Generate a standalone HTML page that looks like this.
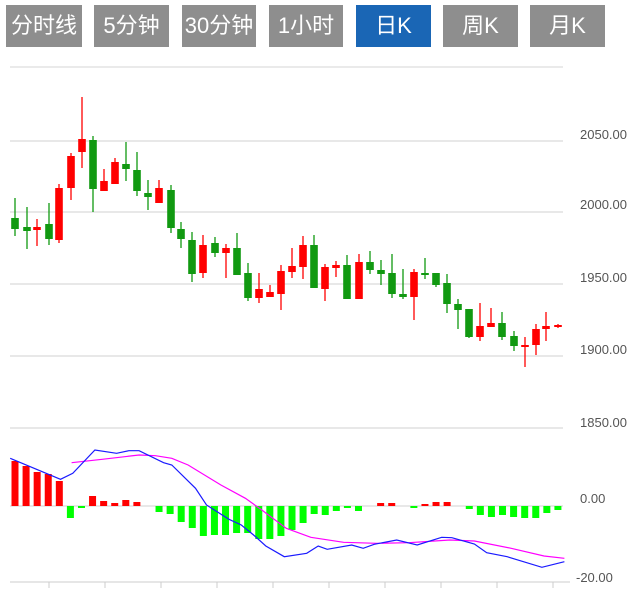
<!DOCTYPE html>
<html><head><meta charset="utf-8"><style>
body{margin:0;width:634px;height:590px;background:#fff;overflow:hidden;font-family:"Liberation Sans","Noto Sans CJK SC",sans-serif}
.b{position:absolute;top:5px;height:42px;background:#8e8e8e;color:#fff;font-size:22px;line-height:42px;text-align:center}
.b.a{background:#1a66b5}
svg{position:absolute;left:0;top:0}
</style></head><body>
<div class="b" style="left:6px;width:76px">分时线</div>
<div class="b" style="left:94px;width:75px">5分钟</div>
<div class="b" style="left:182px;width:74px">30分钟</div>
<div class="b" style="left:269px;width:74px">1小时</div>
<div class="b a" style="left:356px;width:75px">日K</div>
<div class="b" style="left:443px;width:75px">周K</div>
<div class="b" style="left:530px;width:75px">月K</div>
<svg id="s" width="634" height="590" xmlns="http://www.w3.org/2000/svg" font-family="Liberation Sans, sans-serif" font-size="13" fill="#555">
<line x1="10" y1="67" x2="563" y2="67" stroke="#e4e4e4" stroke-width="1.5"/>
<g stroke="#e0e0e0" stroke-width="1.5">
<line x1="10" y1="141" x2="563" y2="141"/><line x1="10" y1="212" x2="563" y2="212"/>
<line x1="10" y1="284" x2="563" y2="284"/><line x1="10" y1="356" x2="563" y2="356"/>
<line x1="10" y1="428" x2="563" y2="428"/><line x1="10" y1="506" x2="563" y2="506"/>
</g>
<text x="580" y="139">2050.00</text><text x="580" y="209">2000.00</text>
<text x="580" y="282">1950.00</text><text x="580" y="354">1900.00</text>
<text x="580" y="427">1850.00</text><text x="580" y="503">0.00</text>
<text x="576" y="582">-20.00</text>
<line x1="10" y1="582" x2="570" y2="582" stroke="#ccc"/>
<g id="c"></g>
</svg>
<script>
var s=document.getElementById('c'),h='';
// x, bodyTop, bodyBot, wickTop, wickBot, red?
var C=[[15,218,229,198,236,0],[27,227,231,207,249,0],[37,227,230,219,246,1],[49,224,239,203,245,0],[59,188,240,184,243,1],[71,156,188,153,200,1],[82,139,152,97,168,1],[93,140,189,136,212,0],[104,181,191,169,191,1],[115,162,184,158,184,1],[126,164,169,142,181,0],[137,170,191,152,196,0],[148,193,197,180,210,0],[159,188,203,180,203,1],[171,190,228,185,233,0],[181,229,239,222,248,0],[192,240,274,232,282,0],[203,245,273,235,278,1],[215,243,253,237,257,0],[226,248,253,244,278,1],[237,248,275,233,275,0],[248,273,298,263,301,0],[259,289,298,273,303,1],[270,292,297,285,297,1],[281,271,294,265,310,1],[292,266,272,248,278,1],[303,245,267,236,279,1],[314,245,288,235,288,0],[325,267,289,264,301,1],[336,265,268,261,277,1],[347,265,299,255,299,0],[359,262,299,254,299,1],[370,262,270,251,274,0],[381,270,274,260,285,0],[392,273,294,254,298,0],[403,294,297,269,299,0],[414,272,297,269,320,1],[425,273,274,258,279,0],[436,273,285,273,287,0],[447,283,304,274,313,0],[458,304,310,299,329,0],[469,309,337,309,338,0],[480,326,337,303,341,1],[491,323,327,308,327,1],[502,323,337,312,340,0],[514,336,346,331,351,0],[525,345,347,337,367,1],[536,329,345,324,355,1],[546,326,329,312,341,1],[558,325,327,324,328,1]];
C.forEach(function(c){var col=c[5]?'#f00':'#119911';
h+='<line x1="'+c[0]+'" x2="'+c[0]+'" y1="'+c[3]+'" y2="'+c[4]+'" stroke="'+col+'" stroke-width="1.3"/>';
h+='<rect x="'+(c[0]-3.8)+'" y="'+c[1]+'" width="7.6" height="'+Math.max(2,c[2]-c[1])+'" fill="'+col+'"/>';});
// MACD bars idx:y
var M={0:461,1:466,2:472,3:474,4:481,5:518,6:508,7:496,8:501,9:503,10:500,11:502,13:512,14:514,15:522,16:528,17:536,18:535,19:535,20:533,21:533,22:539,23:539,24:536,25:530,26:523,27:514,28:515,29:511,30:508,31:511,33:503,34:503,36:508,37:504,38:502,39:502,41:509,42:515,43:517,44:515,45:517,46:518,47:518,48:513,49:510};
for(var i in M){var x=15+11.08*i,y=M[i],red=y<506;
h+='<rect x="'+(x-3.5)+'" y="'+(red?y:506)+'" width="7" height="'+Math.max(1.5,Math.abs(y-506))+'" fill="'+(red?'#f00':'#00ff00')+'"/>';}
function pl(a,col){var p=[];for(var i=0;i<a.length;i+=2)p.push((a[i]/2.445).toFixed(1)+','+(a[i+1]/3+440).toFixed(1));
return '<polyline points="'+p.join(' ')+'" fill="none" stroke="'+col+'" stroke-width="1.2"/>';}
h+=pl([175,68,250,58,340,45,380,47,420,55,460,75,540,135,600,175,640,210,700,265,760,292,840,307,920,310,1000,308,1100,300,1160,303,1250,325,1330,348,1380,355],'#ff00ff');
h+=pl([25,55,148,118,178,100,232,30,285,40,315,32,340,32,400,68,420,75,478,145,505,195,560,238,590,255,620,285,650,318,695,350,750,340,778,318,800,328,860,315,888,325,915,313,970,300,1020,315,1080,292,1105,293,1160,312,1190,338,1240,350,1325,382,1380,365],'#1a1aff');
[49,105,161,217,273,329,385,441,497,553].forEach(function(x){h+='<line x1="'+x+'" x2="'+x+'" y1="582" y2="588" stroke="#ccc"/>';});
s.innerHTML=h;
</script>
</body></html>
